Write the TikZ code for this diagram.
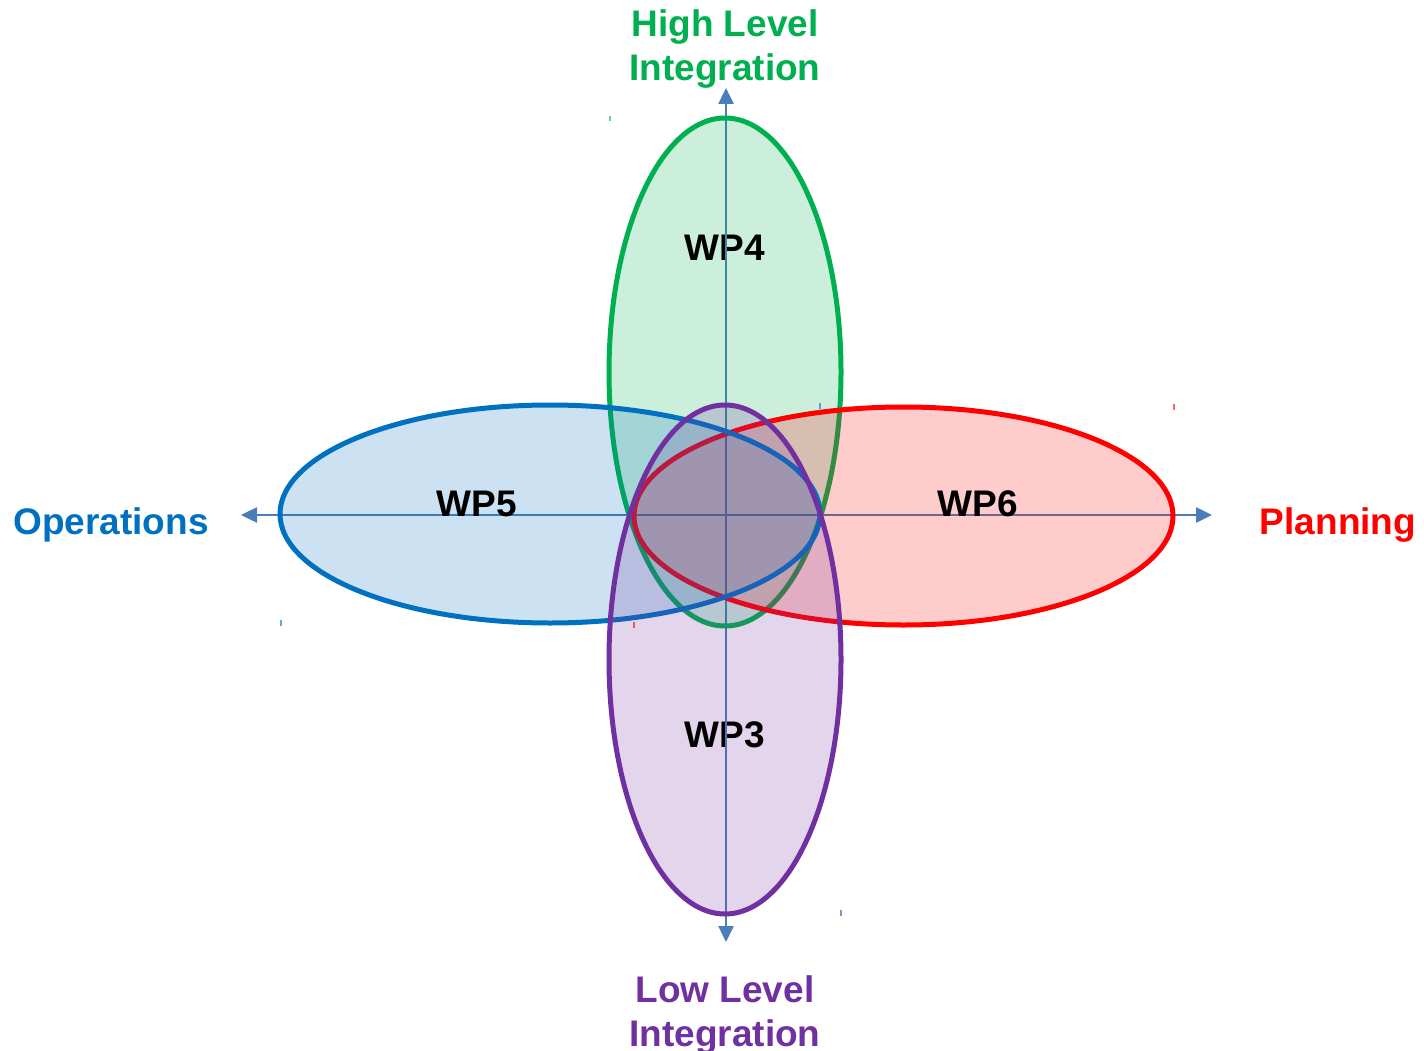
\documentclass[tikz,border=0pt]{standalone}
\usepackage{fontspec}
\setmainfont{Liberation Sans}
\usetikzlibrary{arrows.meta}
\definecolor{cgreen}{HTML}{00B050}
\definecolor{cblue}{HTML}{0070C0}
\definecolor{cred}{HTML}{FF0000}
\definecolor{cpurple}{HTML}{7030A0}
\definecolor{caxis}{HTML}{4A7EBB}
\begin{document}
\begin{tikzpicture}[x=1pt,y=-1pt,
  lbl/.style={font=\fontsize{37}{44}\selectfont\bfseries, inner sep=0pt, align=center},
  wp/.style={lbl, text=black, anchor=base},
  axis/.style={draw=caxis, line width=2.5pt, {Triangle[length=16pt,width=15pt]}-{Triangle[length=16pt,width=15pt]}},
  oval/.style={line width=5pt, fill opacity=0.2, draw opacity=1},
  tick/.style={line width=1.2pt, opacity=0.6}]
\useasboundingbox[fill=white] (0,0) rectangle (1424,1051);
% axes
\coordinate (L) at (241,515);
\coordinate (R) at (1212,515);
\coordinate (T) at (726,88);
\coordinate (B) at (726,942);
\draw[axis] (L) -- (R);
\draw[axis] (T) -- (B);
% ellipses
\path[oval, draw=cgreen, fill=cgreen] (725,372) ellipse [x radius=116, y radius=254];
\path[oval, draw=cred, fill=cred] (903.5,516) ellipse [x radius=269.5, y radius=109];
\path[oval, draw=cblue, fill=cblue] (550,514) ellipse [x radius=270, y radius=109];
\path[oval, draw=cpurple, fill=cpurple] (725,659.5) ellipse [x radius=116, y radius=254.5];
% WP labels
\node[wp] (wp4) at (725,260) {WP4};
\node[wp] (wp5) at (477,516) {WP5};
\node[wp] (wp6) at (978,516) {WP6};
\node[wp] (wp3) at (725,747) {WP3};
% vertical axis passes over the WP4 and WP3 labels
\begin{scope}
\clip (wp4.south west) rectangle (wp4.north east);
\draw[draw=caxis!80!cgreen, line width=2.5pt] (T) -- (B);
\end{scope}
\begin{scope}
\clip (wp3.south west) rectangle (wp3.north east);
\draw[draw=caxis!85!cpurple, line width=2.5pt] (T) -- (B);
\end{scope}
% small corner marks
\draw[tick, cgreen] (610,116) -- (610,121);
\draw[tick, cblue] (281,620) -- (281,626);
\draw[tick, cred] (634,622) -- (634,628);
\draw[tick, cred] (1174,404) -- (1174,410);
\draw[tick, cblue] (820,403) -- (820,409);
\draw[tick, cpurple] (841,910) -- (841,916);
% axis labels
\node[lbl, text=cgreen, anchor=north] (high) at (725,9) {High Level\\Integration};
\node[lbl, text=cpurple, anchor=north] (low) at (725,975) {Low Level\\Integration};
\node[lbl, text=cblue, anchor=base] (ops) at (111,534) {Operations};
\node[lbl, text=cred, anchor=base] (plan) at (1338,534) {Planning};
\end{tikzpicture}
\end{document}
